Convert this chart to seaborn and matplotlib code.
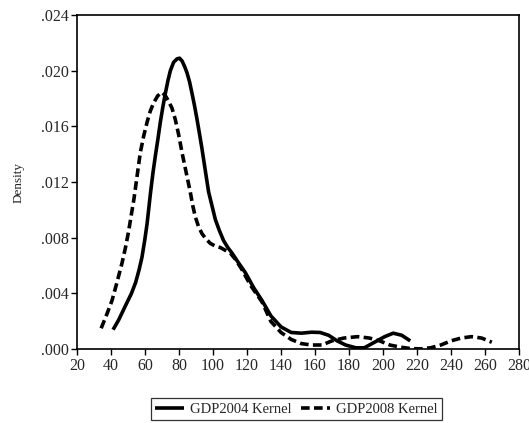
import pandas as pd
import seaborn as sns
import matplotlib.pyplot as plt
from matplotlib.ticker import FuncFormatter

# Kernel density estimates
gdp2004_x = [41.2, 44.5, 48.4, 52, 54.5, 56.5, 58.2, 59.8, 61.2, 62.3, 63.2,
             64.6, 66.1, 67.6, 69.0, 70.5, 72.0, 73.5, 74.9, 76.8, 78.8, 80.3,
             81.8, 83.3, 84.7, 86.2, 87.6, 89.1, 90.6, 92.0, 93.5, 95.5, 97.4,
             99.4, 101.4, 103.8, 106.2, 108.7, 111.2, 115, 119, 124, 128.8,
             134, 140, 146, 152, 158, 163, 168, 173, 178, 184, 189, 195, 201,
             206, 211, 216]
gdp2004_y = [0.0014, 0.0021, 0.0031, 0.0040, 0.0048, 0.0057, 0.0066, 0.0078,
             0.0090, 0.0102, 0.0112, 0.0126, 0.0139, 0.0151, 0.0163, 0.0174,
             0.0184, 0.0193, 0.0200, 0.0206, 0.02085, 0.0209, 0.0207, 0.0203,
             0.01985, 0.0192, 0.0184, 0.0175, 0.0165, 0.0155, 0.0144, 0.0128,
             0.0113, 0.0103, 0.0093, 0.0085, 0.0078, 0.0073, 0.0069, 0.0062,
             0.0055, 0.0044, 0.0035, 0.0024, 0.0016, 0.0012, 0.00115, 0.00122,
             0.0012, 0.0010, 0.0006, 0.0003, 0.0001, 0.0001, 0.0005, 0.0009,
             0.00115, 0.0010, 0.0006]

gdp2008_x = [34.2, 37.5, 40.6, 43.5, 46.5, 48.5, 50.4, 52, 53.5, 55.3, 57.2,
             59.2, 61.2, 63.1, 65.1, 67.5, 70, 72, 73.9, 75.9, 77.8, 79.8, 81.8,
             84.2, 86.6, 88.1, 89.6, 91.5, 93.5, 96, 98.4, 101.4, 104.3, 107.2,
             110.2, 113.5, 117.1, 122, 128.8, 134, 140, 146, 152, 158, 164, 170,
             177, 185, 192, 198, 204, 210, 216, 222, 228, 234, 240, 246, 252,
             258, 264]
gdp2008_y = [0.0015, 0.0025, 0.0035, 0.0048, 0.0062, 0.0073, 0.0085, 0.0097,
             0.0108, 0.0124, 0.0141, 0.0153, 0.0163, 0.0171, 0.0177, 0.0182,
             0.01845, 0.0182, 0.0178, 0.0173, 0.0165, 0.0154, 0.0141, 0.0127,
             0.0113, 0.0103, 0.0095, 0.0088, 0.0083, 0.0079, 0.0076, 0.0074,
             0.0073, 0.0071, 0.0069, 0.0064, 0.0057, 0.0046, 0.0034, 0.0020,
             0.0012, 0.0007, 0.0004, 0.0003, 0.0003, 0.0006, 0.0008, 0.0009,
             0.0008, 0.0006, 0.0003, 0.00015, 0.00005, 0.00002, 0.0001, 0.0003,
             0.0006, 0.0008, 0.0009, 0.0008, 0.0005]

series_names = ['GDP2004 Kernel', 'GDP2008 Kernel']

# Build long data frame
dtf = pd.concat([
    pd.DataFrame({'x': gdp2004_x, 'Density': gdp2004_y, 'Series': series_names[0]}),
    pd.DataFrame({'x': gdp2008_x, 'Density': gdp2008_y, 'Series': series_names[1]}),
], ignore_index=True)

sns.set_style('white')
plt.rcParams['font.family'] = ['Liberation Serif', 'DejaVu Serif']

fig = plt.figure(figsize=(5.29, 4.23), dpi=100)
ax = fig.add_axes([0.1456, 0.1745, 0.8355, 0.79])

sns.lineplot(data=dtf, x='x', y='Density', hue='Series', style='Series',
             palette=['black', 'black'], dashes=[(1, 0), (2.4, 1.2)],
             linewidth=2.6, sort=False, estimator=None, ax=ax)

ax.set_xlim(20, 280)
ax.set_ylim(0, 0.024)
ax.set_xticks(range(20, 281, 20))
ax.set_yticks([0, 0.004, 0.008, 0.012, 0.016, 0.020, 0.024])
ax.yaxis.set_major_formatter(FuncFormatter(lambda v, p: f"{v:.3f}".lstrip('0')))
ax.set_xlabel('')
ax.set_ylabel('Density', fontsize=9.5, labelpad=12)
ax.tick_params(axis='both', which='major', direction='out', length=4,
               width=1, color='black', labelsize=11.5, bottom=True, left=True,
               top=False, right=False, pad=2)
for s in ax.spines.values():
    s.set_color('black')
    s.set_linewidth(1.2)

ax.legend_.remove()
handles, labels = ax.get_legend_handles_labels()
leg = fig.legend(handles, labels, loc='center', ncol=2,
                 bbox_to_anchor=(0.56, 0.032), fontsize=10.5, frameon=True,
                 fancybox=False, edgecolor='black', handlelength=2.0,
                 handletextpad=0.4, columnspacing=0.6, borderpad=0.3,
                 borderaxespad=0.2)
leg.get_frame().set_linewidth(0.9)

fig.savefig('out.png', dpi=100)
